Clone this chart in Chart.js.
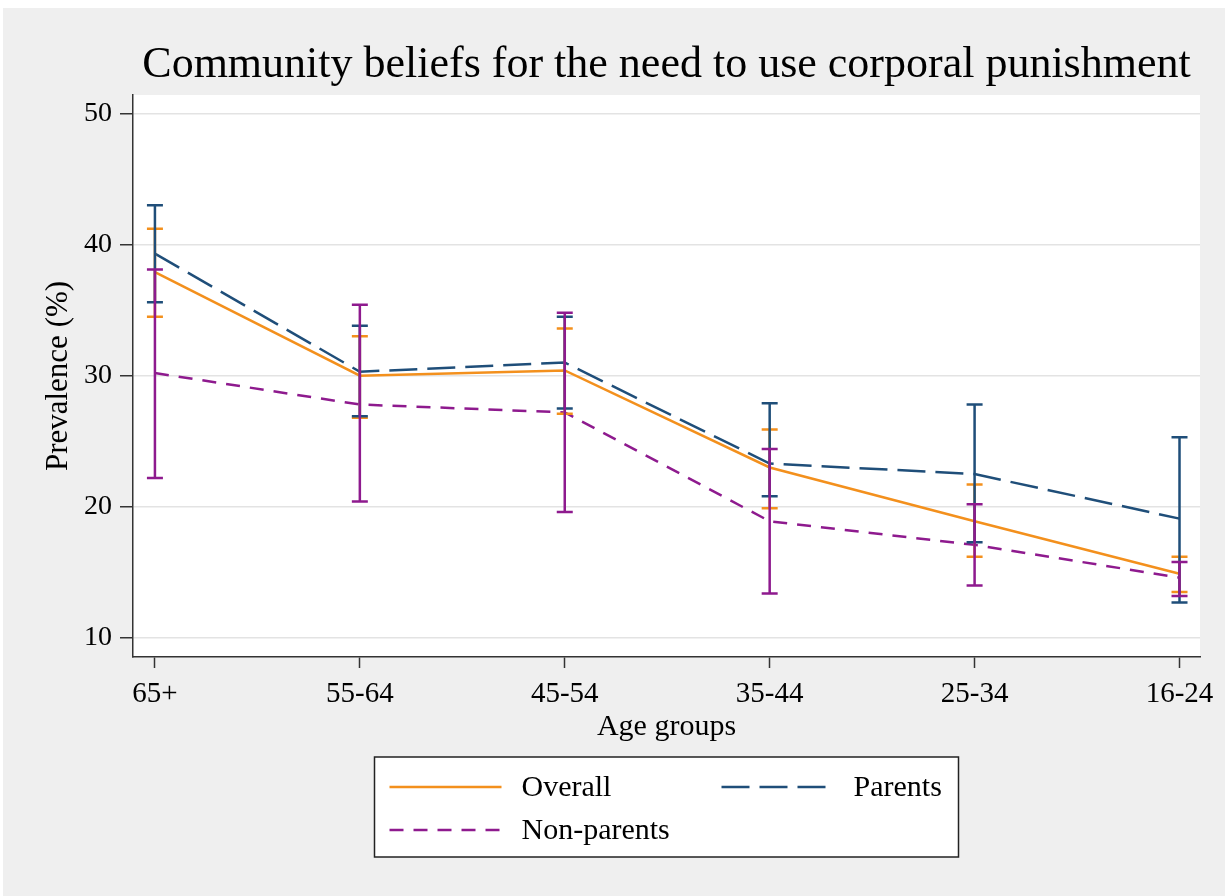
<!DOCTYPE html>
<html>
<head>
<meta charset="utf-8">
<script src="https://cdn.jsdelivr.net/npm/chart.js@4/dist/chart.umd.min.js"></script>
<style>
  body { margin: 0; background: #fff; overflow: hidden; }
  #wrap { width: 1225px; height: 896px; position: relative; }
</style>
</head>
<body>
<div id="wrap"><canvas id="myChart"></canvas></div>
<script>
'use strict';

// values
var ageGroups = ['65+', '55-64', '45-54', '35-44', '25-34', '16-24'];
var overall      = [37.9, 30.0, 30.4, 23.0, 18.9, 14.9];
var overallLo    = [34.5, 26.8, 27.1, 19.9, 16.2, 13.5];
var overallHi    = [41.2, 33.0, 33.6, 25.9, 21.7, 16.2];
var parents      = [39.3, 30.3, 31.0, 23.3, 22.5, 19.1];
var parentsLo    = [35.6, 26.9, 27.5, 20.8, 17.3, 12.7];
var parentsHi    = [43.0, 33.8, 34.5, 27.9, 27.8, 25.3];
var nonParents   = [30.2, 27.8, 27.2, 18.9, 17.1, 14.6];
var nonParentsLo = [22.2, 20.4, 19.6, 13.4, 14.0, 13.2];
var nonParentsHi = [38.1, 35.4, 34.8, 24.4, 20.2, 15.8];
var yTicks = [10, 20, 30, 40, 50];

var serif = '"Liberation Serif", "DejaVu Serif", serif';

function toPoints(arr) {
  return arr.map(function (v, i) { return { x: i, y: v }; });
}

// page + plot backgrounds
var backdrop = {
  id: 'backdrop',
  beforeDraw: function (chart) {
    var ctx = chart.ctx, a = chart.chartArea;
    ctx.save();
    ctx.fillStyle = '#ffffff';
    ctx.fillRect(0, 0, chart.width, chart.height);
    ctx.fillStyle = '#efefef';
    ctx.fillRect(3, 8, chart.width - 3, chart.height - 8);
    ctx.fillStyle = '#ffffff';
    ctx.fillRect(a.left, a.top, a.right - a.left, a.bottom - a.top);
    ctx.restore();
  }
};

// confidence interval bars
var ciBars = {
  id: 'ciBars',
  afterDatasetsDraw: function (chart) {
    var ctx = chart.ctx, xs = chart.scales.x, ys = chart.scales.y;
    ctx.save();
    chart.data.datasets.forEach(function (ds) {
      ctx.strokeStyle = ds.borderColor;
      ctx.lineWidth = 2.5;
      ctx.setLineDash([]);
      ds.lo.forEach(function (lo, i) {
        var px = xs.getPixelForValue(i);
        var y1 = ys.getPixelForValue(lo), y2 = ys.getPixelForValue(ds.hi[i]);
        ctx.beginPath();
        ctx.moveTo(px, y1); ctx.lineTo(px, y2);
        ctx.moveTo(px - 8, y1); ctx.lineTo(px + 8, y1);
        ctx.moveTo(px - 8, y2); ctx.lineTo(px + 8, y2);
        ctx.stroke();
      });
    });
    ctx.restore();
  }
};

// boxed legend under the axis title
var boxLegend = {
  id: 'boxLegend',
  afterDraw: function (chart) {
    var ctx = chart.ctx, a = chart.chartArea;
    var mid = (a.left + a.right) / 2;
    var w = 584, h = 100, x0 = mid - w / 2, y0 = 757;
    var slots = [[15, 30], [347, 30], [15, 73]];
    ctx.save();
    ctx.fillStyle = '#fff';
    ctx.fillRect(x0, y0, w, h);
    ctx.strokeStyle = '#222';
    ctx.lineWidth = 1.5;
    ctx.strokeRect(x0, y0, w, h);
    ctx.font = '30px ' + serif;
    ctx.textBaseline = 'middle';
    ctx.fillStyle = '#000';
    chart.data.datasets.forEach(function (ds, i) {
      var sx = x0 + slots[i][0], sy = y0 + slots[i][1];
      var dash = ds.borderDash || [];
      var len = 112;
      if (dash.length) {
        // stop on a whole dash so no stub is left at the end
        var cycle = dash[0] + dash[1];
        len = Math.floor((112 - dash[0]) / cycle) * cycle + dash[0];
      }
      ctx.strokeStyle = ds.borderColor;
      ctx.lineWidth = 2.5;
      ctx.setLineDash(dash);
      ctx.beginPath();
      ctx.moveTo(sx, sy); ctx.lineTo(sx + len, sy);
      ctx.stroke();
      ctx.fillText(ds.label, sx + 132, sy + 1);
    });
    ctx.restore();
  }
};

var ctx = document.getElementById('myChart');
new Chart(ctx, {
  type: 'line',
  data: {
    datasets: [
      { label: 'Overall', data: toPoints(overall), lo: overallLo, hi: overallHi,
        borderColor: '#f3901d', borderWidth: 2.5, borderDash: [] },
      { label: 'Parents', data: toPoints(parents), lo: parentsLo, hi: parentsHi,
        borderColor: '#1f4e79', borderWidth: 2.5, borderDash: [28, 10] },
      { label: 'Non-parents', data: toPoints(nonParents), lo: nonParentsLo, hi: nonParentsHi,
        borderColor: '#8e1a8e', borderWidth: 2.5, borderDash: [14, 10] }
    ]
  },
  options: {
    responsive: true,
    maintainAspectRatio: false,
    animation: false,
    elements: { point: { radius: 0 }, line: { tension: 0 } },
    layout: { padding: { left: 0, right: 25, top: 0, bottom: 0 } },
    plugins: {
      legend: { display: false },
      tooltip: { enabled: false },
      title: {
        display: true,
        fullSize: false,
        text: 'Community beliefs for the need to use corporal punishment',
        color: '#000',
        font: { family: serif, size: 44, weight: 'normal', lineHeight: 1.2 },
        padding: { top: 38.6, bottom: 3.6 }
      }
    },
    scales: {
      x: {
        type: 'linear',
        min: -0.107,
        max: 5.1,
        afterFit: function (scale) { scale.height = 239; },
        afterBuildTicks: function (scale) {
          scale.ticks = ageGroups.map(function (c, i) { return { value: i }; });
        },
        ticks: {
          color: '#000',
          padding: 9,
          maxRotation: 0,
          font: { family: serif, size: 29 },
          callback: function (v) { return ageGroups[v]; }
        },
        grid: { drawOnChartArea: false, drawTicks: true, tickLength: 11, tickColor: '#333', tickWidth: 1.5 },
        border: { display: true, color: '#333', width: 1.5 },
        title: {
          display: true,
          text: 'Age groups',
          color: '#000',
          font: { family: serif, size: 30, lineHeight: 1.2 },
          padding: { top: 0, bottom: 151 }
        }
      },
      y: {
        min: 8.55,
        max: 51.4,
        afterFit: function (scale) { scale.width = 133; },
        afterBuildTicks: function (scale) {
          scale.ticks = yTicks.map(function (v) { return { value: v }; });
        },
        ticks: {
          color: '#000',
          padding: 8,
          font: { family: serif, size: 28 }
        },
        grid: { color: '#e3e3e3', lineWidth: 1.5, tickLength: 13, tickColor: '#333', tickWidth: 1.5 },
        border: { display: true, color: '#333', width: 1.5 },
        title: {
          display: true,
          text: 'Prevalence (%)',
          color: '#000',
          font: { family: serif, size: 31, lineHeight: 1.2 },
          padding: { top: 40, bottom: 0 }
        }
      }
    }
  },
  plugins: [backdrop, ciBars, boxLegend]
});
</script>
</body>
</html>
